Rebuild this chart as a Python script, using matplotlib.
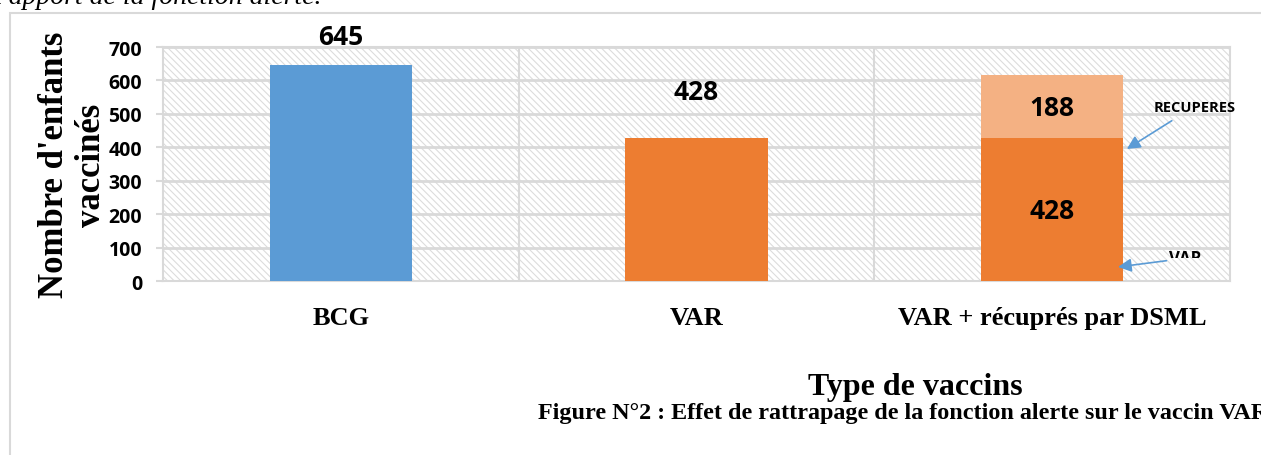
import matplotlib.pyplot as plt
import matplotlib.patches as mpatches
import numpy as np

# Données du graphique
categories = ["BCG", "VAR", "VAR + récuprés par DSML"]
valeurs_base = [645, 428, 428]
valeurs_recup = [0, 0, 188]
couleurs_base = ["#5B9BD5", "#ED7D31", "#ED7D31"]
couleur_recup = "#F4B183"
yticks = [0, 100, 200, 300, 400, 500, 600, 700]

plt.rcParams['hatch.linewidth'] = 0.8
plt.rcParams['hatch.color'] = '#dcdcdc'

fig = plt.figure(figsize=(12.61, 4.56), dpi=100)
ax = fig.add_axes([163 / 1261, 1 - 282 / 456, (1230 - 163) / 1261, (282 - 48) / 456])

x = np.arange(len(categories))
gris = '#d9d9d9'
sans = 'Open Sans'
serif = 'Liberation Serif'

# fond hachuré
fond = mpatches.Rectangle((0, 0), 1, 1, transform=ax.transAxes, facecolor='white',
                          edgecolor='#dcdcdc', hatch='\\\\\\\\\\', lw=0, zorder=0)
ax.add_patch(fond)

for v in yticks[1:]:
    ax.axhline(v, color=gris, lw=2, zorder=1)
for xs in [0.5, 1.5]:
    ax.axvline(xs, color=gris, lw=1.5, zorder=1)

ax.bar(x, valeurs_base, width=0.40, color=couleurs_base, zorder=3)
ax.bar(x, valeurs_recup, width=0.40, bottom=valeurs_base, color=couleur_recup, zorder=3)

ax.set_xlim(-0.5, 2.5)
ax.set_ylim(0, 700)
ax.set_yticks(yticks)
ax.set_yticklabels([str(v) for v in yticks], fontfamily=sans, fontweight='bold', fontsize=14)
ax.tick_params(axis='y', length=5, color=gris, width=1.5, pad=10)
ax.set_xticks(x)
ax.set_xticklabels(categories, fontfamily=serif, fontweight='bold', fontsize=19)
ax.tick_params(axis='x', length=0, pad=18)
for s in ax.spines.values():
    s.set_color(gris)
    s.set_linewidth(1.5)

# étiquettes des valeurs
style = dict(fontfamily=sans, fontweight='bold', fontsize=19, ha='center', va='center', zorder=5)
ax.text(x[0], valeurs_base[0] + 85, str(valeurs_base[0]), clip_on=False, **style)
ax.text(x[1], valeurs_base[1] + 140, str(valeurs_base[1]), **style)
ax.text(x[2], 520, str(valeurs_recup[2]), **style)
ax.text(x[2], 210, str(valeurs_base[2]), **style)

# annotations flèches
ax.annotate("RECUPERES", xy=(2.21, 395), xytext=(2.40, 522), ha='center', va='center',
            fontfamily=sans, fontweight='bold', fontsize=10.5,
            arrowprops=dict(arrowstyle='-|>', color='#5B9BD5', lw=1.2, mutation_scale=20,
                            shrinkA=6, shrinkB=0))
t = ax.annotate("VAR", xy=(2.185, 42), xytext=(2.375, 95), ha='center', va='top',
                fontfamily=sans, fontweight='bold', fontsize=12,
                arrowprops=dict(arrowstyle='-|>', color='#5B9BD5', lw=1.2, mutation_scale=20,
                                shrinkA=0, shrinkB=0))
t.arrow_patch.set_positions((2.36, 72), (2.185, 42))
clip = mpatches.Rectangle((2.25, 68), 0.3, 100, transform=ax.transData)
t.set_clip_path(clip)

ax.set_ylabel("Nombre d'enfants\nvaccinés", fontfamily=serif, fontweight='bold',
              fontsize=25, linespacing=1.15)
ax.yaxis.set_label_coords(-0.052, 0.5)

fig.text(915 / 1261, 1 - 387 / 456, "Type de vaccins", ha='center', va='center',
         fontfamily=serif, fontweight='bold', fontsize=23)
fig.text(538 / 1261, 1 - 414 / 456, "Figure N°2 : Effet de rattrapage de la fonction alerte sur le vaccin VAR",
         ha='left', va='center', fontfamily=serif, fontweight='bold', fontsize=17.4)

# texte coupé en haut et cadre
fig.text(-0.004, 1 - 4 / 456, "l'apport de la fonction alerte.", ha='left', va='baseline',
         fontfamily=serif, style='italic', fontsize=20)
cadre = mpatches.Rectangle((10 / 1261, -0.1), 1.1, 1 - 14 / 456 + 0.1, transform=fig.transFigure,
                           fill=False, edgecolor='#d9d9d9', lw=1.5)
fig.patches.append(cadre)

fig.savefig("out.png", dpi=100)
